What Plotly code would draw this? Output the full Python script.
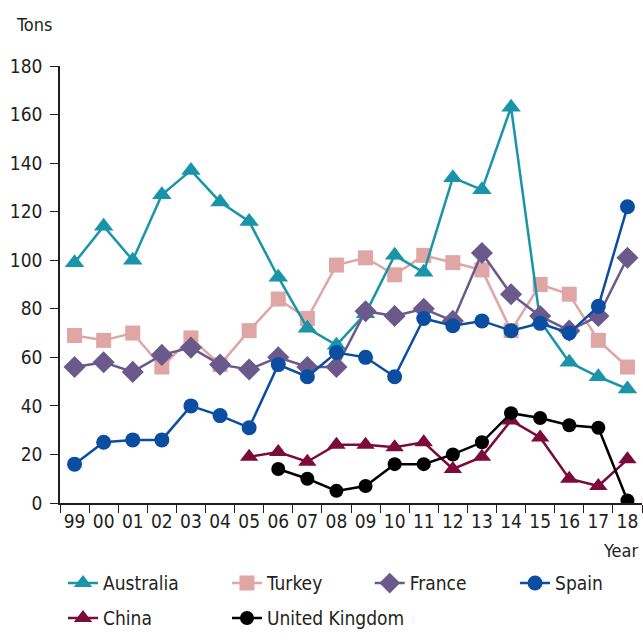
import plotly.graph_objects as go

years = ["99", "00", "01", "02", "03", "04", "05", "06", "07", "08",
         "09", "10", "11", "12", "13", "14", "15", "16", "17", "18"]

australia = [99, 114, 100, 127, 137, 124, 116, 93, 72, 65,
             78, 102, 95, 134, 129, 163, 75, 58, 52, 47]
turkey = [69, 67, 70, 56, 68, 57, 71, 84, 76, 98,
          101, 94, 102, 99, 96, 71, 90, 86, 67, 56]
france = [56, 58, 54, 61, 64, 57, 55, 60, 56, 56,
          79, 77, 80, 75, 103, 86, 77, 71, 77, 101]
spain = [16, 25, 26, 26, 40, 36, 31, 57, 52, 62,
         60, 52, 76, 73, 75, 71, 74, 70, 81, 122]
china = [None, None, None, None, None, None, 19, 21, 17, 24,
         24, 23, 25, 14, 19, 34, 27, 10, 7, 18]
uk = [None, None, None, None, None, None, None, 14, 10, 5,
      7, 16, 16, 20, 25, 37, 35, 32, 31, 1]

FONT = "DejaVu Sans Condensed, Liberation Sans Narrow, Roboto, sans-serif"
TEXT = "#231f20"

series = [
    # name, values, colour, symbol, size, legend id, legend x, legend y
    ("Turkey", turkey, "#e0a5a5", "square", 15, "legend2", 0.353, -0.140),
    ("Australia", australia, "#1994a9", "triangle-up", 17, "legend", 0.098, -0.140),
    ("France", france, "#6a5a8c", "diamond", 17, "legend3", 0.575, -0.140),
    ("Spain", spain, "#0b4da1", "circle", 15, "legend4", 0.801, -0.140),
    ("China", china, "#7c0a3a", "triangle-up", 16, "legend5", 0.098, -0.220),
    ("United Kingdom", uk, "#000000", "circle", 14, "legend6", 0.353, -0.220),
]

fig = go.Figure()
legends = {}
for name, vals, color, symbol, size, leg, lx, ly in series:
    fig.add_trace(go.Scatter(
        x=years, y=vals, name=name, mode="lines+markers",
        line=dict(color=color, width=2.5),
        marker=dict(symbol=symbol, size=size, color=color),
        legend=leg,
    ))
    legends[leg] = dict(
        orientation="h", xref="container", x=lx, xanchor="left",
        y=ly, yanchor="top", font=dict(size=19), bgcolor="rgba(0,0,0,0)",
    )

fig.update_layout(
    width=643, height=644,
    margin=dict(l=60, r=1, t=66, b=141, autoexpand=False),
    paper_bgcolor="white", plot_bgcolor="white",
    font=dict(family=FONT, size=18, color=TEXT),
    showlegend=True,
    **legends,
)
fig.update_xaxes(
    type="category", range=[-0.5, 19.5], automargin=False, tickangle=0,
    showline=True, linecolor=TEXT, linewidth=1.5, tickfont=dict(size=19),
    ticks="outside", tickson="boundaries", ticklen=8, tickcolor=TEXT,
    showgrid=False, zeroline=False,
)
fig.update_yaxes(
    range=[0, 180], dtick=20, automargin=False, ticklabelstandoff=4,
    showline=True, linecolor=TEXT, linewidth=1.5, tickfont=dict(size=19),
    ticks="outside", ticklen=8, tickcolor=TEXT,
    showgrid=False, zeroline=False,
)
fig.add_annotation(text="Tons", xref="paper", yref="paper", x=-0.079, y=1.096,
                   xanchor="left", yanchor="middle", showarrow=False,
                   font=dict(size=18))
fig.add_annotation(text="Year", xref="paper", yref="paper", x=0.997, y=-0.108,
                   xanchor="right", yanchor="middle", showarrow=False,
                   font=dict(size=18))

# drop the browser's default 8px body margin so the figure fills the window
fig.write_html(
    "out.html",
    config={"displayModeBar": False},
    post_script="document.body.style.margin='0';document.body.style.overflow='hidden';",
)
